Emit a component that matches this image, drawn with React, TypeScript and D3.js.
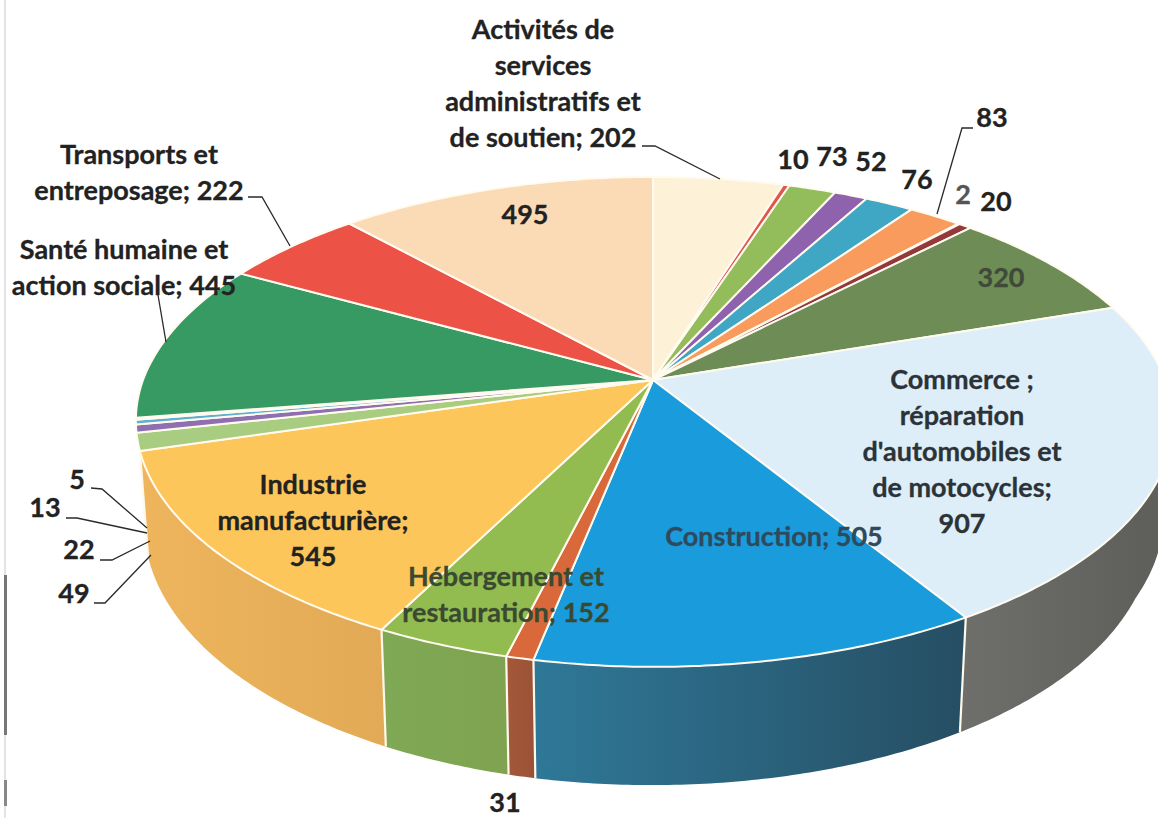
import React from "react";
import * as d3 from "d3";

const sliceNames = ["Activités de services administratifs et de soutien","Autre a","Autre b","Autre c","Autre d","Autre e","Autre f","Autre g","Autre h","Commerce ; réparation d'automobiles et de motocycles","Construction","Autre i","Hébergement et restauration","Industrie manufacturière","Autre j","Autre k","Autre l","Autre m","Santé humaine et action sociale","Transports et entreposage","Autre n"];
const sliceValues = [202,10,73,52,76,83,2,20,320,907,505,31,152,545,49,22,13,5,445,222,495];
const topColors = ["#FDF2D8","#E0574C","#93BC5B","#8F62AE","#3FA6C4","#F89B5C","#F6C9A8","#94383A","#6E8C55","#DDEEF9","#1A9BDC","#D9693A","#93BC50","#FDC65A","#A8CC80","#8F6FB0","#5FB0CF","#CFE9F5","#369A62","#EC5245","#FBDBB6"];
const sideLeft = ["#ccc","#ccc","#ccc","#ccc","#ccc","#ccc","#ccc","#ccc","#6E6E6A","#6E6E6A","#2F7898","#A5583A","#7FA955","#EEB55D","#8FAF6C","#7A5E96","#428EA8","#B8CAD2","#25804D","#C04030","#D4B08A"];
const sideRight = ["#ccc","#ccc","#ccc","#ccc","#ccc","#ccc","#ccc","#ccc","#5F605C","#5F605C","#264E63","#9A5236","#7FA350","#E2AA56","#8FAF6C","#7A5E96","#428EA8","#B8CAD2","#25804D","#C04030","#D4B08A"];

const labelLines = [
  { lines: ["Activités de","services","administratifs et","de soutien; 202"], x: 543, y: 28.5, fill: "#222" },
  { lines: ["Transports et","entreposage; 222"], x: 139, y: 153.5, fill: "#222" },
  { lines: ["Santé humaine et","action sociale; 445"], x: 124, y: 248.5, fill: "#222" },
  { lines: ["495"], x: 525, y: 213.5, fill: "#222" },
  { lines: ["320"], x: 1001, y: 276.5, fill: "#3f4a38" },
  { lines: ["Commerce ;","réparation","d'automobiles et","de motocycles;","907"], x: 962, y: 378.5, fill: "#2b3338" },
  { lines: ["Construction; 505"], x: 774, y: 535.5, fill: "#2f4a5c" },
  { lines: ["Industrie","manufacturière;","545"], x: 313, y: 483.5, fill: "#222" },
  { lines: ["Hébergement et","restauration; 152"], x: 506, y: 575.5, fill: "#3a4a30" },
  { lines: ["10"], x: 793, y: 158.5, fill: "#222" },
  { lines: ["73"], x: 832, y: 155.5, fill: "#222" },
  { lines: ["52"], x: 871, y: 160.5, fill: "#222" },
  { lines: ["76"], x: 917, y: 178.5, fill: "#222" },
  { lines: ["83"], x: 992, y: 116.5, fill: "#222" },
  { lines: ["2"], x: 963, y: 193.5, fill: "#555" },
  { lines: ["20"], x: 996, y: 200.5, fill: "#222" },
  { lines: ["5"], x: 77, y: 478.5, fill: "#222" },
  { lines: ["13"], x: 45, y: 506.5, fill: "#222" },
  { lines: ["22"], x: 79, y: 548.5, fill: "#222" },
  { lines: ["49"], x: 74, y: 592.5, fill: "#222" },
  { lines: ["31"], x: 505, y: 801, fill: "#222" },
];
const leaders: [number, number][][] = [
  [[642,146],[655,146],[720,179]],
  [[248,197],[262,197],[290,246]],
  [[158,295],[166,342]],
  [[973,128],[962,128],[937,214]],
  [[91,488],[102,489],[147,528]],
  [[66,518],[77,518],[147,533]],
  [[100,560],[112,560],[150,541]],
  [[94,603],[105,603],[151,555]],
];

const CX = 653, CY = 380, AY = 237.8, P = 0.171;
const BX_RIGHT = 512, BX_LEFT = 510;
const BOTTOM_DEPTH = 98;
const VIS_START = (80 * Math.PI) / 180, VIS_END = (253.6 * Math.PI) / 180;

const top = (t: number): [number, number] => {
  const u = Math.sin(t), v = Math.cos(t), s = 1 / (1 + P * v);
  const nudge = u < 0 ? 3 * Math.max(-v, 0) * Math.min(1, -u * 8) : 0;
  return [CX + (u < 0 ? BX_LEFT : BX_RIGHT) * u * s + nudge, CY - AY * v * s];
};
const bottomShrink = (u: number) => {
  if (u <= 0) return 0.016;
  if (u <= 0.9) return 0.016 + 0.02 * u ** 3;
  return 0.016 + 0.0146 * ((1 - u) / 0.1);
};
const bottom = (t: number): [number, number] => {
  const [x, y] = top(t);
  const u = Math.sin(t), v = Math.cos(t), s = 1 / (1 + P * v);
  const depth = BOTTOM_DEPTH * s + (u < 0 ? 3 * -u : 0);
  return [CX + (x - CX) * (1 - bottomShrink(u)), y + depth];
};
const samples = (a: number, b: number) => {
  const n = Math.max(2, Math.ceil((b - a) / 0.01));
  return d3.range(n + 1).map((i) => a + ((b - a) * i) / n);
};
const line = d3.line<[number, number]>().curve(d3.curveLinear);

export default function App() {
  const arcs = d3.pie<number>().sort(null).value((d) => d).startAngle(0).endAngle(2 * Math.PI)(sliceValues);
  return (
    <svg width={1158} height={818} viewBox="0 0 1158 818" style={{ position: "absolute", left: 0, top: 0, background: "#fff" }} fontFamily="Lato, 'Open Sans', sans-serif">
      <defs>
        {arcs.map((a, i) => {
          const x0 = top(Math.max(a.startAngle, VIS_START))[0];
          const x1 = top(Math.min(a.endAngle, VIS_END))[0];
          return (
            <linearGradient key={i} id={`side${i}`} gradientUnits="userSpaceOnUse" x1={Math.min(x0, x1)} x2={Math.max(x0, x1)} y1={0} y2={0}>
              <stop offset="0%" stopColor={sideLeft[i]} />
              <stop offset="100%" stopColor={sideRight[i]} />
            </linearGradient>
          );
        })}
      </defs>
      <rect x={4} y={0} width={2} height={818} fill="#e4e4e4" />
      <rect x={4} y={575} width={3} height={160} fill="#777" />
      <rect x={4} y={780} width={3} height={26} fill="#888" />
      <g>
        {arcs.map((a, i) => {
          const s = Math.max(a.startAngle, VIS_START), e = Math.min(a.endAngle, VIS_END);
          if (e <= s) return null;
          const ts = samples(s, e);
          const pts = [...ts.map(top), ...ts.slice().reverse().map(bottom)];
          return <path key={sliceNames[i]} d={line(pts) + "Z"} fill={`url(#side${i})`} stroke="none" />;
        })}
        {arcs.map((a, i) => {
          if (a.startAngle < VIS_START || a.startAngle > VIS_END) return null;
          return <path key={i} d={line([top(a.startAngle), bottom(a.startAngle)]) ?? ""} stroke="#FFF9EC" strokeWidth={2.2} />;
        })}
      </g>
      <g>
        {arcs.map((a, i) => {
          const pts: [number, number][] = [[CX, CY], ...samples(a.startAngle, a.endAngle).map(top)];
          return <path key={i} d={line(pts) + "Z"} fill={topColors[i]} stroke="#FFFBF0" strokeWidth={2} strokeLinejoin="round" />;
        })}
      </g>
      <g fill="none" stroke="#2a2a2a" strokeWidth={1.3}>
        {leaders.map((l, i) => <path key={i} d={line(l) ?? ""} />)}
      </g>
      <g fontWeight={700} fontSize={27} textAnchor="middle" dominantBaseline="central">
        {labelLines.map((l, i) => l.lines.map((t, j) => (
          <text key={`${i}-${j}`} x={l.x} y={l.y + j * 36} fill={l.fill} stroke={l.fill} strokeWidth={0.3}>{t}</text>
        )))}
      </g>
    </svg>
  );
}
